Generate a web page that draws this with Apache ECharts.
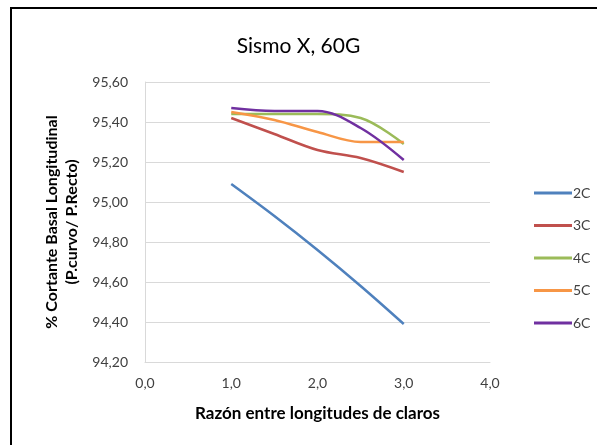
<!DOCTYPE html>
<html>
<head>
<meta charset="utf-8">
<script src="https://cdn.jsdelivr.net/npm/echarts@6/dist/echarts.min.js"></script>
<style>
  html, body { margin: 0; padding: 0; background: #fff; }
  #chart { width: 597px; height: 445px; }
</style>
</head>
<body>
<div id="chart"></div>
<script>
// Span ratio (x) and basal shear ratio per story count
const ratios = [1.0, 1.5, 2.0, 2.5, 3.0];
const seriesNames = ['2C', '3C', '4C', '5C', '6C'];
const v2C = [95.09, 94.93, 94.76, 94.58, 94.39];
const v3C = [95.42, 95.34, 95.26, 95.22, 95.15];
const v4C = [95.44, 95.44, 95.44, 95.42, 95.29];
const v5C = [95.45, 95.41, 95.35, 95.30, 95.30];
const v6C = [95.47, 95.455, 95.455, 95.37, 95.21];
const colors = ['#4F81BD', '#C0504D', '#9BBB59', '#F79646', '#7030A0'];

const allValues = [v2C, v3C, v4C, v5C, v6C];
const fontFam = 'Lato, "Open Sans", sans-serif';

const chart = echarts.init(document.getElementById('chart'), null, { renderer: 'canvas' });

const series = seriesNames.map((name, i) => ({
  name: name,
  type: 'line',
  smooth: 0.35,
  showSymbol: false,
  symbol: 'none',
  lineStyle: { width: 2.5, color: colors[i] },
  itemStyle: { color: colors[i] },
  data: ratios.map((x, k) => [x, allValues[i][k]])
}));

chart.setOption({
  animation: false,
  backgroundColor: '#fff',
  title: {
    text: 'Sismo X, 60G',
    left: 'center',
    top: 31,
    textStyle: { fontFamily: fontFam, fontSize: 21, fontWeight: 'normal', color: '#000' }
  },
  grid: { left: 145, right: 107, top: 82, bottom: 83 },
  legend: {
    orient: 'vertical',
    left: 529,
    top: 181,
    itemWidth: 38,
    itemHeight: 3,
    itemGap: 18.5,
    icon: 'rect',
    textStyle: { fontFamily: fontFam, fontSize: 14, color: '#404040', padding: [0, 0, 0, -4] },
    data: seriesNames
  },
  xAxis: {
    type: 'value',
    min: 0, max: 4, interval: 1,
    name: 'Razón entre longitudes de claros',
    nameLocation: 'middle',
    nameGap: 43,
    nameTextStyle: { fontFamily: fontFam, fontSize: 17, fontWeight: 'bold', color: '#000' },
    axisLine: { show: true, lineStyle: { color: '#d9d9d9', width: 1 } },
    axisTick: { show: false },
    splitLine: { show: false },
    axisLabel: {
      margin: 14,
      fontFamily: fontFam, fontSize: 14, color: '#404040',
      formatter: v => v.toFixed(1).replace('.', ',')
    }
  },
  yAxis: {
    type: 'value',
    min: 94.2, max: 95.6, interval: 0.2,
    name: '% Cortante Basal Longitudinal\n(P.curvo/ P.Recto)',
    nameLocation: 'middle',
    nameRotate: 90,
    nameGap: 63,
    nameTextStyle: { fontFamily: fontFam, fontSize: 16, fontWeight: 'bold', color: '#000', lineHeight: 20 },
    axisLine: { show: true, lineStyle: { color: '#d9d9d9', width: 1 } },
    axisTick: { show: false },
    splitLine: { show: true, lineStyle: { color: '#d9d9d9', width: 1 } },
    axisLabel: {
      margin: 17,
      fontFamily: fontFam, fontSize: 14, color: '#404040',
      formatter: v => v.toFixed(2).replace('.', ',')
    }
  },
  graphic: [{
    type: 'rect',
    shape: { x: 11, y: 8, width: 620, height: 470 },
    style: { fill: 'none', stroke: '#000', lineWidth: 2 },
    silent: true
  }],
  series: series
});
</script>
</body>
</html>
